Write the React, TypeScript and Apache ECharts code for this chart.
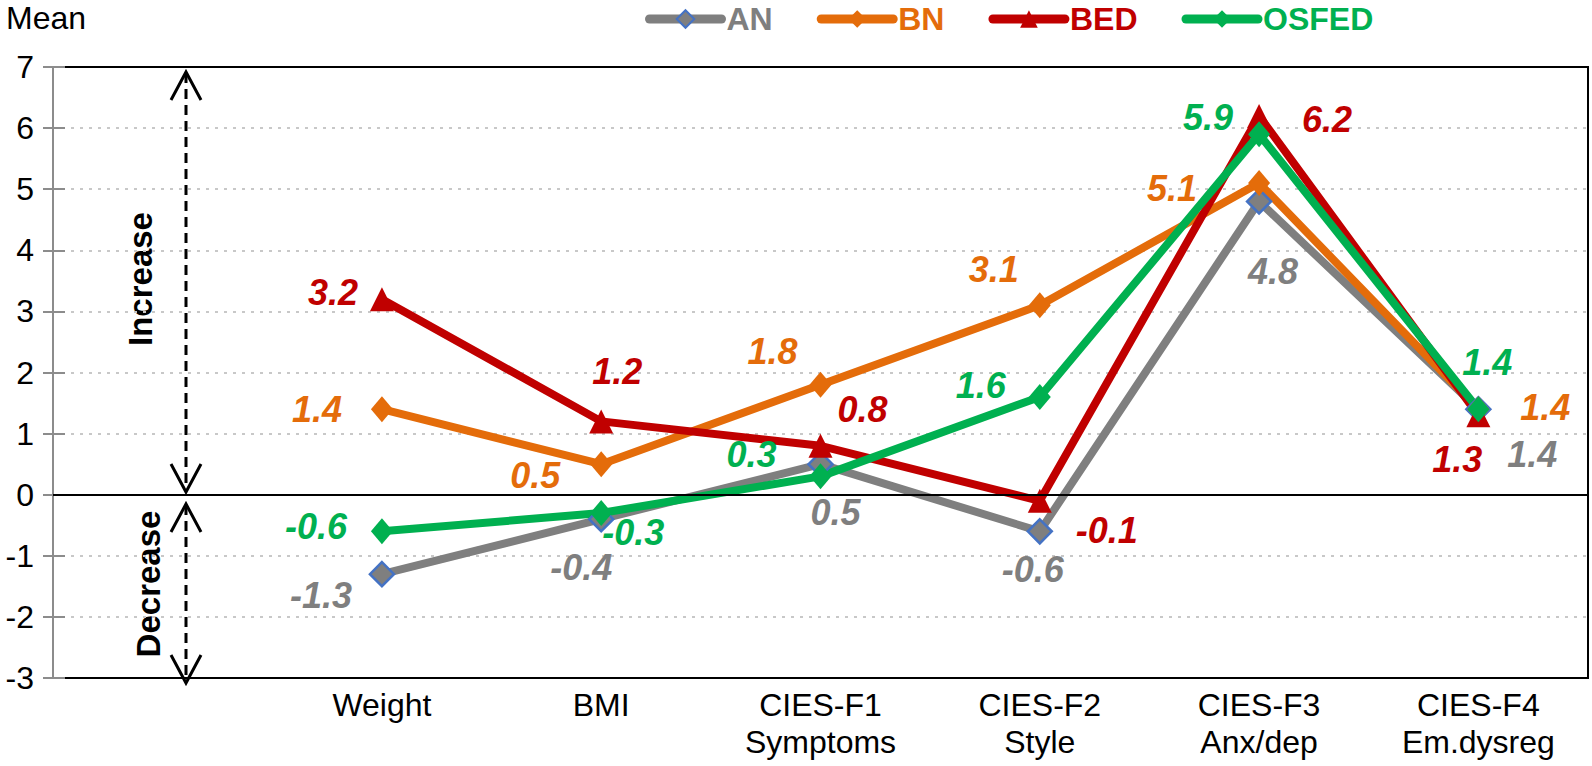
import React, { useEffect, useRef } from 'react';
import * as echarts from 'echarts';

const categories = ['', 'Weight', 'BMI', 'CIES-F1\nSymptoms', 'CIES-F2\nStyle', 'CIES-F3\nAnx/dep', 'CIES-F4\nEm.dysreg'];
const seriesNames = ['AN', 'BN', 'BED', 'OSFED'];
const anValues = [null, -1.3, -0.4, 0.5, -0.6, 4.8, 1.4];
const bnValues = [null, 1.4, 0.5, 1.8, 3.1, 5.1, 1.4];
const bedValues = [null, 3.2, 1.2, 0.8, -0.1, 6.2, 1.3];
const osfedValues = [null, -0.6, -0.3, 0.3, 1.6, 5.9, 1.4];
const yMin = -3;
const yMax = 7;
const yInterval = 1;

// label offsets (styling) per point, relative to the marker
const anOffsets = [[0, 0], [-61, 21], [-20, 48], [15, 48], [-7, 38], [14, 70], [54, 45]];
const bnOffsets = [[0, 0], [-65, 0], [-66, 11], [-48, -33], [-46, -36], [-87, 5], [67, -2]];
const bedOffsets = [[0, 0], [-49, -7], [16, -50], [42, -36], [67, 30], [68, 4], [-21, 44]];
const osfedOffsets = [[0, 0], [-66, -5], [32, 19], [-69, -22], [-59, -11], [-51, -17], [9, -47]];

const GRAY = '#7F7F7F';
const ORANGE = '#E46C0A';
const RED = '#C00000';
const GREEN = '#00B050';
const BLUE = '#4472C4';

const FONT = "'Liberation Sans', Arial, Helvetica, sans-serif";
const NARROW = "'Liberation Sans Narrow', 'Arial Narrow', 'Liberation Sans', Arial, sans-serif";

function mkData(values: (number | null)[], offsets: number[][]) {
  return values.map((v, i) => (v == null ? null : { value: v, label: { offset: offsets[i] } }));
}

function mkSeries(name: string, values: (number | null)[], offsets: number[][], color: string, symbol: string, symbolSize: any, itemStyle: any) {
  return {
    name,
    type: 'line',
    data: mkData(values, offsets),
    symbol,
    symbolSize,
    showSymbol: true,
    showAllSymbol: true,
    connectNulls: false,
    lineStyle: { color, width: 8 },
    itemStyle,
    label: {
      show: true,
      position: 'inside',
      align: 'center',
      verticalAlign: 'middle',
      color,
      fontFamily: NARROW,
      fontSize: 36,
      fontWeight: 'bold',
      fontStyle: 'italic',
      formatter: (p: any) => Number(p.value).toFixed(1),
    },
    emphasis: { disabled: true },
  };
}

function arrowGraphics() {
  const x = 186;
  const dash = { stroke: '#000', lineWidth: 3, lineDash: [10, 6] };
  const head = { stroke: '#000', lineWidth: 3, fill: null };
  return [
    { type: 'line', shape: { x1: x, y1: 73, x2: x, y2: 491 }, style: dash, silent: true },
    { type: 'polyline', shape: { points: [[x - 15, 100], [x, 72], [x + 15, 100]] }, style: head, silent: true },
    { type: 'polyline', shape: { points: [[x - 15, 464], [x, 492], [x + 15, 464]] }, style: head, silent: true },
    { type: 'line', shape: { x1: x, y1: 505, x2: x, y2: 681 }, style: dash, silent: true },
    { type: 'polyline', shape: { points: [[x - 15, 532], [x, 504], [x + 15, 532]] }, style: head, silent: true },
    { type: 'polyline', shape: { points: [[x - 15, 655], [x, 683], [x + 15, 655]] }, style: head, silent: true },
    {
      type: 'text', x: 140, y: 279, rotation: Math.PI / 2, silent: true,
      style: { text: 'Increase', fill: '#000', font: `bold 33px ${FONT}`, align: 'center', verticalAlign: 'middle' },
    },
    {
      type: 'text', x: 148, y: 584, rotation: Math.PI / 2, silent: true,
      style: { text: 'Decrease', fill: '#000', font: `bold 33px ${FONT}`, align: 'center', verticalAlign: 'middle' },
    },
    {
      type: 'text', x: 6, y: 18, silent: true,
      style: { text: 'Mean', fill: '#000', font: `32px ${FONT}`, align: 'left', verticalAlign: 'middle' },
    },
  ];
}

export default function App() {
  const ref = useRef<HTMLDivElement>(null);
  useEffect(() => {
    if (!ref.current) return;
    const chart = echarts.init(ref.current, null, { renderer: 'svg' });
    const option: any = {
      animation: false,
      backgroundColor: '#fff',
      grid: { left: 53, right: 4, top: 67, bottom: 88, show: true, borderColor: '#000', borderWidth: 2, backgroundColor: 'transparent' },
      legend: {
        left: 640,
        top: -2,
        itemWidth: 72,
        itemHeight: 22,
        itemGap: 44,
        lineStyle: { width: 9, cap: 'round' },
        textStyle: { fontFamily: FONT, fontSize: 32, fontWeight: 'bold' },
        data: [
          { name: seriesNames[0], textStyle: { color: GRAY } },
          { name: seriesNames[1], textStyle: { color: ORANGE } },
          { name: seriesNames[2], textStyle: { color: RED } },
          { name: seriesNames[3], textStyle: { color: GREEN } },
        ],
        selectedMode: false,
      },
      xAxis: {
        type: 'category',
        data: categories,
        boundaryGap: true,
        axisLine: { show: false },
        axisTick: { show: false },
        splitLine: { show: false },
        axisLabel: { color: '#000', fontFamily: FONT, fontSize: 32, lineHeight: 37, margin: 8, interval: 0 },
      },
      yAxis: [
        {
          type: 'value',
          min: yMin,
          max: yMax,
          interval: yInterval,
          position: 'left',
          axisLine: { show: true, lineStyle: { color: '#8C8C8C', width: 2 } },
          axisTick: { show: true, length: 10, lineStyle: { color: '#8C8C8C', width: 2 } },
          axisLabel: { color: '#000', fontFamily: FONT, fontSize: 32, margin: 19 },
          splitLine: { show: true, showMinLine: false, showMaxLine: false, lineStyle: { color: '#C8C8C8', width: 2, type: [3, 6] } },
        },
        {
          type: 'value',
          min: yMin,
          max: yMax,
          interval: yInterval,
          position: 'left',
          axisLine: { show: false },
          axisTick: { show: true, inside: true, length: 12, lineStyle: { color: '#8C8C8C', width: 2 } },
          axisLabel: { show: false },
          splitLine: { show: false },
        },
      ],
      series: [
        {
          name: 'zero',
          type: 'line',
          data: [],
          silent: true,
          markLine: {
            silent: true,
            symbol: 'none',
            label: { show: false },
            lineStyle: { color: '#000', width: 2, type: 'solid' },
            data: [{ yAxis: 0 }],
          },
        },
        mkSeries(seriesNames[0], anValues, anOffsets, GRAY, 'diamond', 24, { color: GRAY, borderColor: BLUE, borderWidth: 2.5 }),
        mkSeries(seriesNames[1], bnValues, bnOffsets, ORANGE, 'diamond', [22, 26], { color: ORANGE }),
        mkSeries(seriesNames[2], bedValues, bedOffsets, RED, 'triangle', 24, { color: RED }),
        mkSeries(seriesNames[3], osfedValues, osfedOffsets, GREEN, 'diamond', [22, 26], { color: GREEN }),
      ],
      graphic: arrowGraphics(),
    };
    chart.setOption(option);
    return () => chart.dispose();
  }, []);
  return <div ref={ref} style={{ position: 'fixed', left: 0, top: 0, width: 1592, height: 766, background: '#fff' }} />;
}
